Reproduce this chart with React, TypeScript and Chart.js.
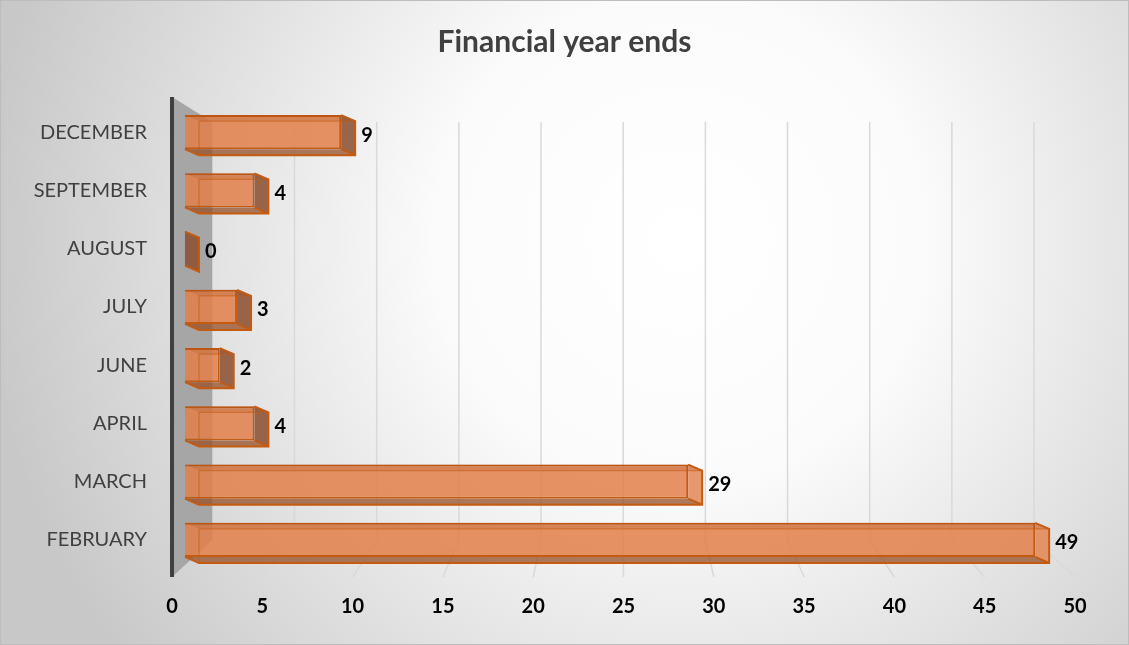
import React, { useEffect, useRef } from 'react';
import { Chart, registerables } from 'chart.js';

Chart.register(...registerables);

const TITLE = 'Financial year ends';
const CATEGORIES = ['DECEMBER', 'SEPTEMBER', 'AUGUST', 'JULY', 'JUNE', 'APRIL', 'MARCH', 'FEBRUARY'];
const VALUES = [9, 4, 0, 3, 2, 4, 29, 49];
const TICK_VALUES = [0, 5, 10, 15, 20, 25, 30, 35, 40, 45, 50];

const FONT = 'Lato, "Open Sans", "DejaVu Sans", sans-serif';
const BAR_FILL = 'rgba(226,128,74,0.86)';
const BAR_EDGE = '#C55A11';
const DEPTH_X = 14;
const DEPTH_Y = 6;

const decor = {
  id: 'decor',
  beforeDraw(chart: any) {
    const { ctx, width, height } = chart;
    ctx.save();
    const g = ctx.createRadialGradient(680, 240, 0, 680, 240, 700);
    g.addColorStop(0, '#ffffff');
    g.addColorStop(0.35, '#fbfbfb');
    g.addColorStop(1, '#c8c8c8');
    ctx.fillStyle = g;
    ctx.fillRect(0, 0, width, height);
    ctx.strokeStyle = '#bdbdbd';
    ctx.lineWidth = 1;
    ctx.strokeRect(0.5, 0.5, width - 1, height - 1);
    ctx.restore();
  },
  beforeDatasetsDraw(chart: any) {
    const { ctx, chartArea } = chart;
    const { left, top, bottom } = chartArea;
    const xt = chart.scales.xt;
    const back = (x: number) => 620 + (x - 620) * 0.91;
    const wallTop = top + 19;
    const wallBottom = bottom - 29;
    const wx = back(left);
    ctx.save();
    // side wall
    ctx.fillStyle = '#a6a6a6';
    ctx.beginPath();
    ctx.moveTo(left, top - 6);
    ctx.lineTo(wx, wallTop);
    ctx.lineTo(wx, wallBottom);
    ctx.lineTo(left, bottom + 8);
    ctx.closePath();
    ctx.fill();
    // grid lines (back wall + floor)
    ctx.strokeStyle = '#d9d9d9';
    ctx.lineWidth = 1.5;
    TICK_VALUES.forEach((v) => {
      if (v === 0) return;
      const xf = xt.getPixelForValue(v);
      const xb = back(xf);
      ctx.beginPath();
      ctx.moveTo(xb, wallTop);
      ctx.lineTo(xb, wallBottom);
      ctx.moveTo(xf, bottom + 8);
      ctx.lineTo(xb, wallBottom);
      ctx.stroke();
    });
    // axis line
    ctx.strokeStyle = '#404040';
    ctx.lineWidth = 4;
    ctx.beginPath();
    ctx.moveTo(left, top - 6);
    ctx.lineTo(left, bottom + 8);
    ctx.stroke();
    ctx.restore();
  },
  afterDatasetsDraw(chart: any) {
    const { ctx } = chart;
    const meta = chart.getDatasetMeta(0);
    ctx.save();
    meta.data.forEach((bar: any, i: number) => {
      const { x, y, base, height } = bar.getProps(['x', 'y', 'base', 'height'], true);
      const t = y - height / 2;
      const b = y + height / 2;
      const x0 = base;
      const x1 = x;
      const x0k = x0 + DEPTH_X;
      const x1k = x1 + DEPTH_X;
      const tk = t + DEPTH_Y;
      const bk = b + DEPTH_Y;
      const darkEnd = x1 < 600;
      // bottom face
      ctx.fillStyle = 'rgba(150,78,38,0.75)';
      ctx.beginPath();
      ctx.moveTo(x0, b);
      ctx.lineTo(x1, b);
      ctx.lineTo(x1k, bk);
      ctx.lineTo(x0k, bk);
      ctx.closePath();
      ctx.fill();
      // end face
      ctx.fillStyle = darkEnd ? 'rgba(140,82,52,0.88)' : 'rgba(226,128,74,0.8)';
      ctx.beginPath();
      ctx.moveTo(x1, t);
      ctx.lineTo(x1k, tk);
      ctx.lineTo(x1k, bk);
      ctx.lineTo(x1, b);
      ctx.closePath();
      ctx.fill();
      // top face shading
      ctx.fillStyle = 'rgba(150,70,30,0.18)';
      ctx.beginPath();
      ctx.moveTo(x0, t);
      ctx.lineTo(x1, t);
      ctx.lineTo(x1k, tk);
      ctx.lineTo(x0k, tk);
      ctx.closePath();
      ctx.fill();
      // inner edges
      ctx.strokeStyle = 'rgba(197,90,17,0.55)';
      ctx.lineWidth = 1.2;
      ctx.beginPath();
      ctx.moveTo(x0k, tk);
      ctx.lineTo(x0k, bk);
      ctx.moveTo(x0k, tk);
      ctx.lineTo(x1k, tk);
      ctx.stroke();
      // outer edges
      ctx.strokeStyle = BAR_EDGE;
      ctx.lineWidth = 2;
      ctx.beginPath();
      ctx.moveTo(x1, t);
      ctx.lineTo(x1k, tk);
      ctx.lineTo(x1k, bk);
      ctx.lineTo(x0k, bk);
      ctx.lineTo(x0, b);
      ctx.moveTo(x1, b);
      ctx.lineTo(x1k, bk);
      ctx.stroke();
      // data label
      ctx.fillStyle = '#000000';
      ctx.font = `bold 20px ${FONT}`;
      ctx.textAlign = 'left';
      ctx.textBaseline = 'middle';
      ctx.fillText(String(VALUES[i]), x1k + 6, y + 3);
    });
    ctx.restore();
  },
};

export default function App() {
  const ref = useRef<HTMLCanvasElement>(null);
  useEffect(() => {
    Chart.defaults.font.family = FONT;
    const chart = new Chart(ref.current as HTMLCanvasElement, {
      type: 'bar',
      data: {
        labels: CATEGORIES,
        datasets: [
          {
            data: VALUES,
            xAxisID: 'x',
            yAxisID: 'y',
            backgroundColor: BAR_FILL,
            borderColor: BAR_EDGE,
            borderWidth: 2,
            barPercentage: 0.584,
            categoryPercentage: 1,
          },
        ],
      },
      options: {
        indexAxis: 'y',
        responsive: false,
        animation: false,
        devicePixelRatio: 1,
        layout: { padding: { left: 0, right: 0, top: 0, bottom: 0 } },
        plugins: {
          legend: { display: false },
          tooltip: { enabled: false },
          title: {
            display: true,
            text: TITLE,
            color: '#404040',
            font: { family: FONT, size: 30, weight: 'bold' },
            padding: { top: 24, bottom: 43 },
          },
        },
        scales: {
          x: { type: 'linear', display: false, min: -0.749, max: 54.41 },
          xt: {
            type: 'linear',
            position: 'bottom',
            min: 0,
            max: 52.99,
            afterBuildTicks: (s: any) => {
              s.ticks = TICK_VALUES.map((v) => ({ value: v }));
            },
            ticks: {
              color: '#000000',
              font: { family: FONT, size: 20, weight: 'bold' },
              padding: 26,
              maxRotation: 0,
              autoSkip: false,
            },
            grid: { display: false, drawTicks: false },
            border: { display: false },
          },
          y: {
            type: 'category',
            afterFit: (s: any) => {
              s.width = 172;
            },
            ticks: {
              color: '#404040',
              font: { family: FONT, size: 20 },
              padding: 25,
              autoSkip: false,
            },
            grid: { display: false, drawTicks: false },
            border: { display: false },
          },
        },
      } as any,
      plugins: [decor],
    });
    return () => chart.destroy();
  }, []);
  return (
    <div style={{ position: 'fixed', left: 0, top: 0, width: 1129, height: 645 }}>
      <canvas ref={ref} width={1129} height={645} style={{ display: 'block' }} />
    </div>
  );
}
